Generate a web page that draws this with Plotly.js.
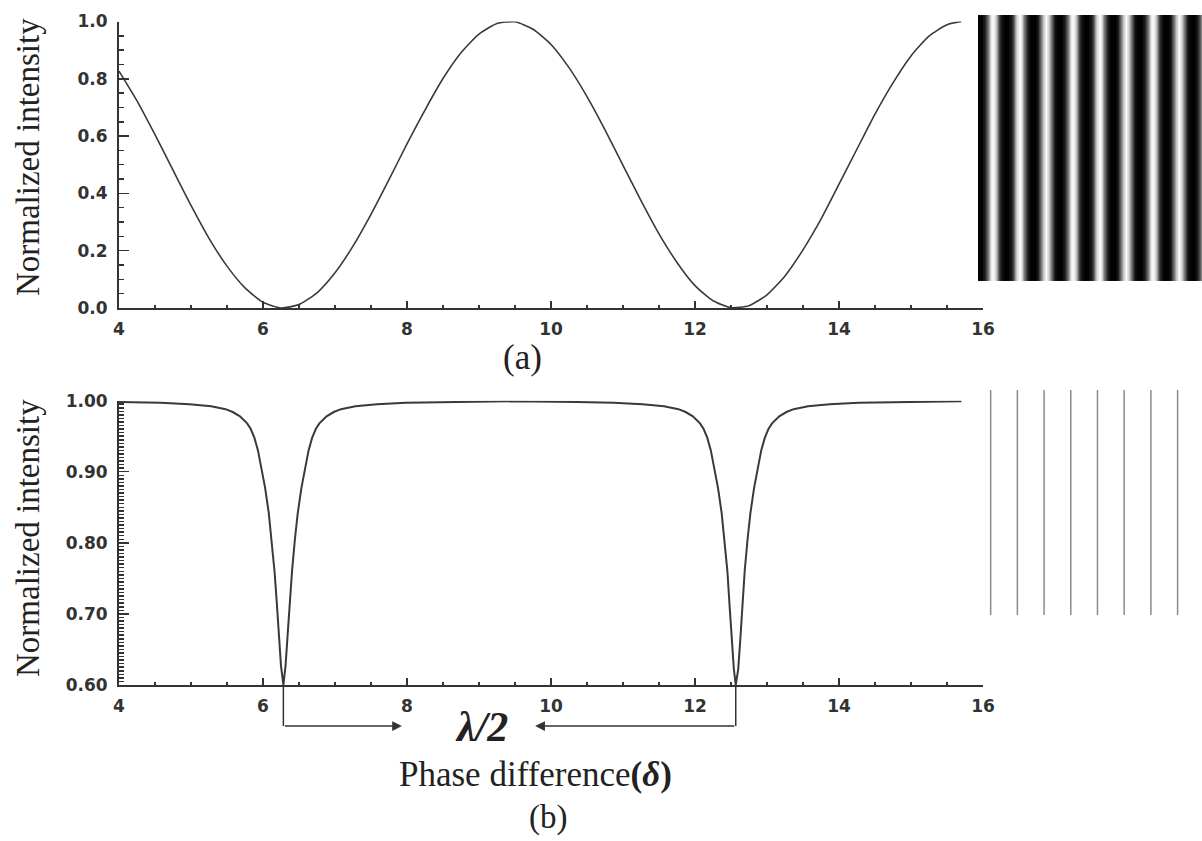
<!DOCTYPE html>
<html>
<head>
<meta charset="utf-8">
<script src="https://cdn.plot.ly/plotly-3.0.1.min.js"></script>
<style>
  html, body { margin: 0; padding: 0; background: #fff; }
  #chart { width: 1202px; height: 841px; }
</style>
</head>
<body>
<div id="chart"></div>
<script>
// (a) two-beam interference
var phase_a = [4.0, 4.25, 4.5, 4.75, 5.0, 5.25, 5.5, 5.75, 6.0, 6.25, 6.5, 6.75,
	7.0, 7.25, 7.5, 7.75, 8.0, 8.25, 8.5, 8.75, 9.0, 9.25, 9.5, 9.75,
	10.0, 10.25, 10.5, 10.75, 11.0, 11.25, 11.5, 11.75, 12.0, 12.25, 12.5, 12.75,
	13.0, 13.25, 13.5, 13.75, 14.0, 14.25, 14.5, 14.75, 15.0, 15.25, 15.5, 15.7];
var intensity_a = [0.827, 0.723, 0.605, 0.481, 0.358, 0.243, 0.146, 0.070, 0.020, 0.000, 0.012, 0.053,
	0.123, 0.216, 0.327, 0.448, 0.573, 0.691, 0.801, 0.891, 0.956, 0.993, 0.999, 0.973,
	0.920, 0.839, 0.738, 0.622, 0.498, 0.375, 0.259, 0.159, 0.078, 0.025, 0.001, 0.008,
	0.046, 0.112, 0.203, 0.310, 0.432, 0.555, 0.677, 0.786, 0.880, 0.949, 0.989, 1.000];

// (b) multi-beam interference
var phase_b = [4.0, 4.58, 4.98, 5.28, 5.48, 5.58, 5.68, 5.78, 5.83, 5.88, 5.93, 5.98,
	6.03, 6.08, 6.12, 6.16, 6.19, 6.22, 6.25, 6.283,
	6.313, 6.343, 6.373, 6.403, 6.443, 6.483, 6.533, 6.583, 6.633, 6.683, 6.733, 6.783,
	6.883, 6.983, 7.083, 7.283, 7.583, 7.983, 8.483, 9.42,
	10.37, 10.87, 11.27, 11.57, 11.77, 11.87, 11.97, 12.07, 12.12, 12.17, 12.22, 12.27,
	12.32, 12.37, 12.41, 12.45, 12.48, 12.51, 12.54, 12.566,
	12.6, 12.63, 12.66, 12.69, 12.73, 12.77, 12.82, 12.87, 12.92, 12.97, 13.02, 13.07,
	13.17, 13.27, 13.37, 13.57, 13.87, 14.27, 14.77, 15.7];
var intensity_b = [0.998, 0.997, 0.995, 0.992, 0.988, 0.984, 0.978, 0.968, 0.960, 0.948, 0.930, 0.905,
	0.877, 0.842, 0.805, 0.760, 0.718, 0.672, 0.627, 0.600,
	0.627, 0.672, 0.718, 0.760, 0.805, 0.842, 0.877, 0.905, 0.930, 0.948, 0.960, 0.968,
	0.978, 0.984, 0.988, 0.992, 0.995, 0.997, 0.998, 0.999,
	0.998, 0.997, 0.995, 0.992, 0.988, 0.984, 0.978, 0.968, 0.960, 0.948, 0.930, 0.905,
	0.877, 0.842, 0.805, 0.760, 0.712, 0.665, 0.622, 0.600,
	0.622, 0.665, 0.712, 0.760, 0.805, 0.842, 0.877, 0.905, 0.930, 0.948, 0.960, 0.968,
	0.978, 0.984, 0.988, 0.992, 0.995, 0.997, 0.998, 0.999];

// fringe pictures on the right
var fringeProfile = [0.0, 0.02, 0.12, 0.42, 0.82, 1.0, 0.82, 0.42, 0.12, 0.02];
var fringeCount = 9;
var lineOrders = [1, 2, 3, 4, 5, 6, 7, 8];

var axisColor = "#333333";
var tickFont = { family: "DejaVu Sans", size: 17, color: "#333333", weight: "bold" };
var serif = "Liberation Serif, Times New Roman, serif";

// stripes row (one period repeated)
var row = [];
for (var k = 0; k < fringeCount; k++) {
	for (var j = 0; j < fringeProfile.length; j++) {
		row.push(fringeProfile[j]);
	}
}

// thin lines of (b)
var lx = [], ly = [];
for (var i = 0; i < lineOrders.length; i++) {
	lx.push(lineOrders[i], lineOrders[i], null);
	ly.push(0, 1, null);
}

var trace_a = {
	mode: "lines",
	x: phase_a,
	y: intensity_a,
	xaxis: "x",
	yaxis: "y",
	line: { color: "#3a3a3a", width: 1.6, shape: "spline", smoothing: 0.6 },
	hoverinfo: "skip"
};

var trace_b = {
	mode: "lines",
	x: phase_b,
	y: intensity_b,
	xaxis: "x2",
	yaxis: "y2",
	line: { color: "#3a3a3a", width: 2 },
	hoverinfo: "skip"
};

var stripes = {
	type: "heatmap",
	z: [row, row],
	x0: 0,
	dx: 0.1,
	xaxis: "x3",
	yaxis: "y3",
	zmin: 0,
	zmax: 1,
	zsmooth: "best",
	colorscale: [[0, "#000000"], [1, "#ffffff"]],
	showscale: false,
	hoverinfo: "skip"
};

var lines_b = {
	mode: "lines",
	x: lx,
	y: ly,
	xaxis: "x4",
	yaxis: "y4",
	line: { color: "#8a8a8a", width: 1.5 },
	hoverinfo: "skip"
};

function plotAxisX(domain, anchor) {
	return {
		domain: domain,
		anchor: anchor,
		range: [4, 16],
		tick0: 4,
		dtick: 2,
		ticks: "inside",
		ticklen: 7,
		tickwidth: 1.5,
		tickcolor: axisColor,
		minor: { dtick: 0.5, ticks: "inside", ticklen: 3, tickcolor: axisColor },
		showline: true,
		linecolor: axisColor,
		linewidth: 2,
		showgrid: false,
		zeroline: false,
		tickfont: tickFont,
		ticklabelstandoff: 5,
		fixedrange: true
	};
}

function label(x, y, text, size, angle) {
	return {
		xref: "paper", yref: "paper", x: x, y: y,
		xanchor: "center", yanchor: "middle",
		text: text, textangle: angle || 0, showarrow: false,
		font: { family: serif, size: size, color: "#222222" }
	};
}

var layout = {
	width: 1202,
	height: 841,
	margin: { l: 0, r: 0, t: 0, b: 0 },
	paper_bgcolor: "#ffffff",
	plot_bgcolor: "rgba(0,0,0,0)",
	showlegend: false,
	xaxis: plotAxisX([0.0990, 0.8178], "y"),
	yaxis: {
		domain: [0.6338, 0.9744],
		anchor: "x",
		range: [0, 1],
		dtick: 0.2,
		tickformat: ".1f",
		ticks: "inside",
		ticklen: 10,
		tickwidth: 1.5,
		tickcolor: axisColor,
		minor: { dtick: 0.05, ticks: "inside", ticklen: 5, tickcolor: axisColor },
		showline: true,
		linecolor: axisColor,
		linewidth: 2,
		showgrid: false,
		zeroline: false,
		tickfont: tickFont,
		ticklabelstandoff: 6,
		fixedrange: true
	},
	xaxis2: plotAxisX([0.0990, 0.8178], "y2"),
	yaxis2: {
		domain: [0.1855, 0.5236],
		anchor: "x2",
		range: [0.6, 1.0],
		dtick: 0.1,
		tickformat: ".2f",
		ticks: "inside",
		ticklen: 10,
		tickwidth: 1.5,
		tickcolor: axisColor,
		minor: { dtick: 0.005, ticks: "inside", ticklen: 5, tickcolor: axisColor },
		showline: true,
		linecolor: axisColor,
		linewidth: 2,
		showgrid: false,
		zeroline: false,
		tickfont: tickFont,
		ticklabelstandoff: 6,
		fixedrange: true
	},
	xaxis3: { domain: [0.8136, 1], anchor: "y3", range: [-0.05, 8.36], visible: false },
	yaxis3: { domain: [0.6659, 0.9822], anchor: "x3", range: [-0.5, 1.5], visible: false },
	xaxis4: { domain: [0.8136, 1], anchor: "y4", range: [0.524, 8.914], visible: false },
	yaxis4: { domain: [0.2687, 0.5363], anchor: "x4", range: [0, 1], visible: false },
	shapes: [
		// drop lines from the two dips
		{ type: "line", xref: "x2", yref: "paper", x0: 6.283, x1: 6.283, y0: 0.1855, y1: 0.1367,
			line: { color: axisColor, width: 1.5 } },
		{ type: "line", xref: "x2", yref: "paper", x0: 12.566, x1: 12.566, y0: 0.1855, y1: 0.1367,
			line: { color: axisColor, width: 1.5 } }
	],
	annotations: [
		{ xref: "x2", yref: "paper", x: 7.93, y: 0.1367, axref: "x2", ax: 6.283, ayref: "pixel", ay: 0,
			text: "", showarrow: true, arrowhead: 2, arrowsize: 1.3, arrowwidth: 1.5, arrowcolor: axisColor },
		{ xref: "x2", yref: "paper", x: 9.78, y: 0.1367, axref: "x2", ax: 12.566, ayref: "pixel", ay: 0,
			text: "", showarrow: true, arrowhead: 2, arrowsize: 1.3, arrowwidth: 1.5, arrowcolor: axisColor },
		label(0.4002, 0.1356, "<b><i>λ/2</i></b>", 42),
		label(0.0233, 0.8133, "Normalized intensity", 33, -90),
		label(0.0233, 0.3603, "Normalized intensity", 33, -90),
		label(0.4351, 0.5755, "(a)", 35),
		label(0.4451, 0.0785, "Phase difference<b>(<i>δ</i>)</b>", 35),
		label(0.4559, 0.0285, "(b)", 33)
	]
};

Plotly.newPlot("chart", [stripes, lines_b, trace_a, trace_b], layout, {
	displayModeBar: false,
	staticPlot: true
});
</script>
</body>
</html>
